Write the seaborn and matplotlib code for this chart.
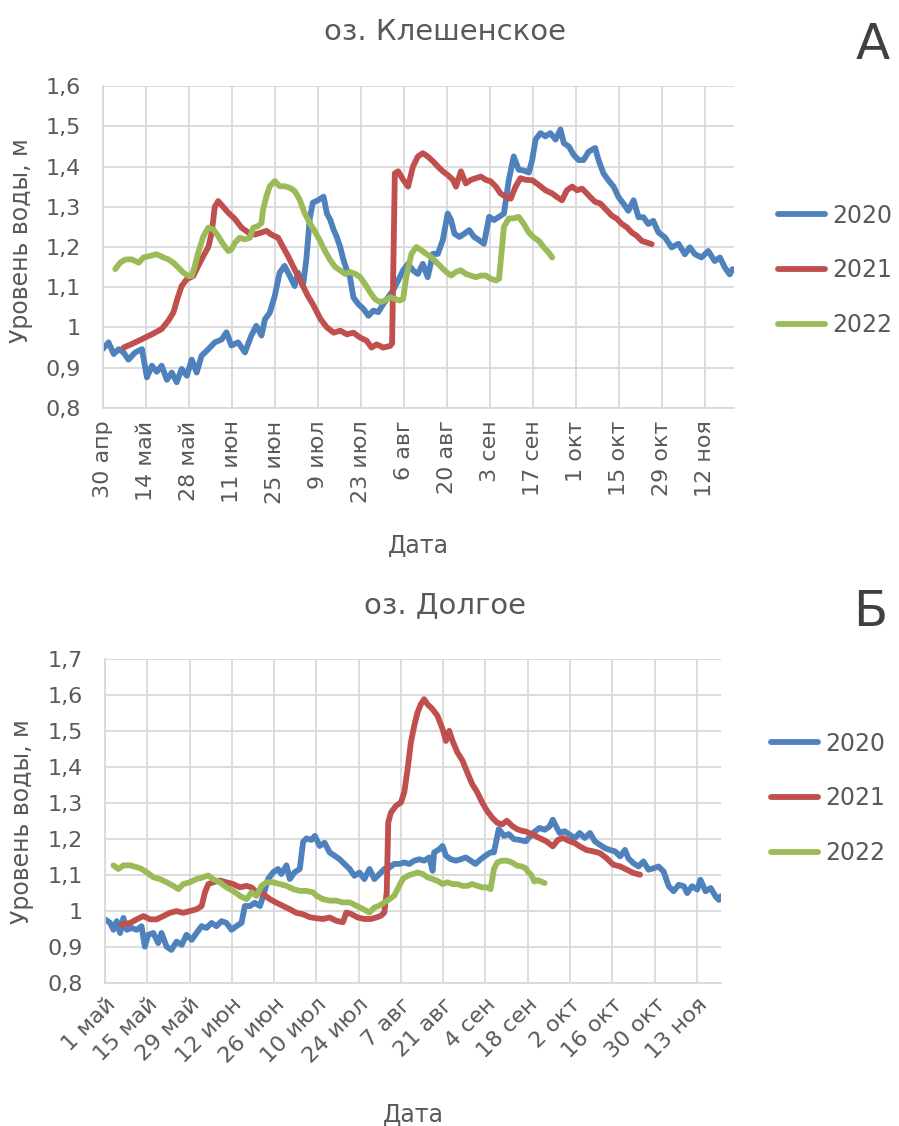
import matplotlib
matplotlib.use("Agg")
import matplotlib.pyplot as plt
import seaborn as sns
import pandas as pd

# ---------------------------------------------------------------------------
# Lake Kleshenskoye: days counted from 30 April, water level in metres
# ---------------------------------------------------------------------------
kl_2020_day = [0, 1.9, 3.6, 5.2, 6.8, 8.4, 10.6, 12.8, 14.4, 16, 17.6, 19.2, 20.9, 22.5, 24.1,
               25.7, 27.4, 29, 30.6, 32.2, 34.4, 36.5, 38.7, 40.3, 41.9, 44.1, 46.3, 48.4, 50,
               51.7, 52.8, 54.4, 56, 57.6, 59.2, 60.9, 62.5, 63.6, 65.2, 66.3, 67.4, 68.4, 70.3,
               71.9, 73, 74.1, 75.2, 76.2, 77.3, 78.4, 79.5, 80.5, 81.6, 83.2, 84.9, 86.5, 88.1,
               89.7, 91.3, 92.9, 94.5, 96.2, 97.8, 99.4, 101, 102.6, 104.2, 105.8, 107.5, 109.1,
               110.7, 112.3, 113.4, 114.5, 116.1, 117.7, 119.3, 120.9, 122.5, 124.1, 125.8, 127.4,
               129, 130.6, 132.2, 133.8, 135.4, 137.1, 138.7, 139.8, 140.9, 142.5, 144.1, 145.7,
               147.4, 149, 150.1, 151.7, 153.3, 154.9, 156.5, 158.2, 160.3, 161.4, 163, 164.6,
               166.3, 167.9, 169.5, 171.1, 172.8, 174.4, 176, 177.6, 179.2, 180.9, 183, 185.2,
               187.4, 189.5, 191.1, 192.8, 194.9, 197.1, 199.2, 200.9, 202.5, 204.1, 205]
kl_2020_lvl = [0.946, 0.963, 0.934, 0.946, 0.938, 0.92, 0.938, 0.946, 0.876, 0.905, 0.89, 0.905,
               0.87, 0.888, 0.864, 0.897, 0.88, 0.92, 0.888, 0.93, 0.946, 0.963, 0.97, 0.988,
               0.955, 0.963, 0.938, 0.98, 1.004, 0.98, 1.02, 1.037, 1.078, 1.136, 1.153, 1.128,
               1.103, 1.136, 1.103, 1.17, 1.27, 1.31, 1.317, 1.325, 1.283, 1.267, 1.242, 1.225,
               1.2, 1.167, 1.142, 1.125, 1.075, 1.058, 1.046, 1.029, 1.042, 1.038, 1.058, 1.075,
               1.092, 1.117, 1.142, 1.158, 1.142, 1.133, 1.158, 1.125, 1.183, 1.183, 1.217, 1.283,
               1.267, 1.233, 1.225, 1.233, 1.242, 1.225, 1.217, 1.208, 1.275, 1.267, 1.275, 1.283,
               1.367, 1.425, 1.392, 1.39, 1.385, 1.416, 1.467, 1.483, 1.475, 1.483, 1.467, 1.492,
               1.458, 1.45, 1.429, 1.416, 1.416, 1.437, 1.446, 1.416, 1.383, 1.366, 1.35, 1.324,
               1.308, 1.29, 1.316, 1.274, 1.274, 1.257, 1.265, 1.236, 1.224, 1.199, 1.208, 1.182,
               1.199, 1.182, 1.174, 1.19, 1.165, 1.174, 1.149, 1.132, 1.145]

kl_2021_day = [6.8, 9.5, 12.8, 16, 19.2, 21.4, 23, 24.6, 25.7, 27.4, 29.5, 31.1, 32.8, 34.4, 35.5,
               36.5, 37.6, 39.2, 40.9, 43, 45.2, 47.4, 49.5, 51.7, 53.3, 54.9, 57.1, 58.7, 60.3,
               61.9, 63.6, 65.2, 66.8, 68.4, 70.9, 73, 75.2, 77.3, 79.5, 81.6, 83.8, 85.9, 87.5,
               89.2, 91.3, 93.5, 94.2, 95.1, 96.2, 97.8, 99.4, 101, 102.6, 104.2, 105.8, 107.5,
               109.1, 110.7, 112.3, 114, 115, 116.6, 118.2, 119.9, 121.5, 123.1, 124.7, 126.3,
               128, 129.5, 131.1, 132.8, 134.4, 136, 137.6, 139.8, 142, 144.1, 146.3, 147.9,
               149.5, 151.1, 152.8, 154.4, 156, 157.1, 158.7, 160.3, 162, 163.6, 165.7, 167.4,
               169, 170.6, 172.2, 173.8, 175.5, 177.1, 178.7]
kl_2021_lvl = [0.95, 0.959, 0.971, 0.983, 0.996, 1.017, 1.037, 1.078, 1.103, 1.12, 1.128, 1.153,
               1.178, 1.2, 1.236, 1.3, 1.314, 1.3, 1.285, 1.27, 1.248, 1.236, 1.231, 1.236, 1.24,
               1.231, 1.223, 1.2, 1.178, 1.153, 1.128, 1.103, 1.078, 1.058, 1.021, 1.0, 0.987,
               0.992, 0.983, 0.987, 0.975, 0.967, 0.95, 0.958, 0.95, 0.954, 0.96, 1.383, 1.388,
               1.367, 1.35, 1.4, 1.425, 1.433, 1.425, 1.413, 1.4, 1.388, 1.379, 1.367, 1.35,
               1.388, 1.358, 1.367, 1.371, 1.375, 1.367, 1.363, 1.35, 1.333, 1.325, 1.32, 1.35,
               1.371, 1.367, 1.366, 1.354, 1.341, 1.333, 1.324, 1.316, 1.341, 1.35, 1.341, 1.345,
               1.337, 1.324, 1.312, 1.308, 1.295, 1.278, 1.27, 1.257, 1.249, 1.236, 1.228, 1.215,
               1.211, 1.207]

kl_2022_day = [4.1, 5.7, 7.4, 9.5, 11.7, 13.3, 15.5, 17.6, 19.8, 21.4, 23, 24.6, 26.3, 27.9, 29,
               30, 31.1, 32.8, 34.4, 36, 37.6, 39.2, 40.9, 41.9, 43, 44.6, 46.3, 47.9, 49, 50.6,
               51.7, 52.2, 53.3, 54.4, 56, 57.6, 59.2, 60.9, 62.5, 64.1, 65.7, 67.4, 69.2, 70.9,
               72.5, 74.1, 75.7, 77.3, 78.9, 80.5, 82.2, 83.8, 85.4, 87, 88.6, 90.2, 91.9, 93.5,
               95.1, 96.7, 97.8, 98.8, 100.5, 102.1, 103.7, 105.3, 106.9, 108.5, 110.2, 111.8,
               113.4, 115, 116.6, 118.2, 119.8, 121.5, 123.1, 124.7, 126.3, 128, 129, 129.9,
               130.6, 132.2, 133.8, 135.4, 137.1, 138.7, 140.3, 142, 143.6, 145.2, 146.3]
kl_2022_lvl = [1.145, 1.161, 1.169, 1.169, 1.161, 1.174, 1.178, 1.182, 1.174, 1.169, 1.161, 1.149,
               1.136, 1.128, 1.128, 1.153, 1.186, 1.227, 1.248, 1.244, 1.227, 1.207, 1.19, 1.194,
               1.21, 1.223, 1.219, 1.223, 1.248, 1.252, 1.26, 1.293, 1.326, 1.351, 1.364, 1.351,
               1.351, 1.347, 1.339, 1.318, 1.285, 1.26, 1.237, 1.213, 1.188, 1.167, 1.15, 1.142,
               1.133, 1.138, 1.133, 1.125, 1.108, 1.088, 1.071, 1.063, 1.067, 1.075, 1.071, 1.067,
               1.071, 1.125, 1.183, 1.2, 1.192, 1.183, 1.175, 1.163, 1.15, 1.138, 1.129, 1.138,
               1.142, 1.133, 1.129, 1.125, 1.129, 1.129, 1.121, 1.117, 1.121, 1.192, 1.25, 1.271,
               1.271, 1.275, 1.257, 1.236, 1.224, 1.215, 1.199, 1.186, 1.174]

# ---------------------------------------------------------------------------
# Lake Dolgoye: days counted from 1 May, water level in metres
# ---------------------------------------------------------------------------
dl_2020_day = [0, 1.7, 2.8, 3.9, 5, 6.1, 7.2, 8.8, 10.5, 12.1, 13.2, 14.3, 16, 17.6, 18.7, 20.4,
               22, 23.7, 25.4, 27, 28.7, 30.3, 32, 33.6, 35.3, 36.9, 38.6, 40.2, 41.9, 43.5, 45.2,
               46.3, 48, 49.6, 51.3, 52.4, 54, 55.7, 57.3, 58.4, 60.1, 61.2, 62.8, 64.5, 65.6,
               66.7, 68.4, 69.5, 71.1, 72.7, 74.4, 76, 77.7, 79.3, 81, 82.6, 84.3, 85.9, 87.6,
               89.2, 90.9, 92.5, 94.2, 95.8, 97.5, 99.1, 100.8, 102.4, 104.1, 105.7, 107.4, 108.5,
               109, 110.7, 111.8, 112.9, 114.5, 116.2, 117.8, 119.5, 121.1, 122.7, 124.4, 126,
               127.7, 128.8, 130.4, 132.1, 133.7, 135.4, 137, 139.4, 141.7, 143.9, 145.6, 147.2,
               148.3, 149.4, 150.6, 152.2, 153.9, 155.6, 157.2, 158.9, 160.6, 162.2, 163.9, 165.6,
               167.2, 168.9, 170.6, 172.2, 173.3, 175, 176.7, 178.3, 180, 181.7, 183.3, 185,
               186.7, 188.3, 190, 191.7, 192.8, 194.4, 196.1, 197.2, 198.9, 200.6, 202.2, 203.3,
               203.9]
dl_2020_lvl = [0.977, 0.967, 0.948, 0.972, 0.939, 0.981, 0.948, 0.953, 0.948, 0.958, 0.901, 0.934,
               0.939, 0.911, 0.939, 0.901, 0.892, 0.915, 0.906, 0.934, 0.92, 0.939, 0.958, 0.953,
               0.967, 0.958, 0.972, 0.967, 0.948, 0.958, 0.967, 1.014, 1.014, 1.023, 1.014, 1.042,
               1.089, 1.108, 1.117, 1.103, 1.127, 1.089, 1.108, 1.117, 1.192, 1.202, 1.198, 1.209,
               1.181, 1.19, 1.163, 1.154, 1.144, 1.131, 1.117, 1.098, 1.107, 1.089, 1.117, 1.089,
               1.103, 1.117, 1.121, 1.131, 1.131, 1.135, 1.131, 1.14, 1.144, 1.14, 1.149, 1.112,
               1.163, 1.172, 1.181, 1.154, 1.144, 1.14, 1.144, 1.149, 1.14, 1.131, 1.144, 1.154,
               1.163, 1.163, 1.228, 1.209, 1.214, 1.2, 1.198, 1.194, 1.217, 1.231, 1.226, 1.235,
               1.254, 1.235, 1.217, 1.222, 1.212, 1.203, 1.217, 1.203, 1.217, 1.194, 1.184, 1.175,
               1.17, 1.166, 1.152, 1.17, 1.147, 1.133, 1.124, 1.138, 1.115, 1.119, 1.124, 1.11,
               1.069, 1.055, 1.073, 1.069, 1.05, 1.069, 1.06, 1.087, 1.055, 1.064, 1.041, 1.031,
               1.041]

dl_2021_day = [5.5, 8.3, 10.5, 12.7, 14.9, 17.1, 19.3, 21.5, 23.7, 25.9, 28.1, 30.3, 32, 33.1,
               34.2, 35.8, 38, 40.2, 42.4, 44.7, 46.9, 48.5, 50.2, 52.4, 54.6, 56.8, 59, 61.2,
               63.4, 65.6, 67.8, 70, 72.2, 74.4, 76.6, 78.8, 79.9, 81.5, 83.7, 85.9, 88.1, 89.8,
               91.4, 92.5, 93.3, 93.8, 94.7, 96.4, 98, 99.1, 100.2, 101.3, 102.4, 103.5, 104.6,
               105.7, 106.8, 108.5, 110.1, 111.8, 112.9, 114, 115.1, 116.7, 118.4, 120, 121.6,
               123.3, 124.9, 126.5, 128.2, 129.8, 131.5, 133.1, 134.8, 136.4, 138.1, 139.4, 141.7,
               143.9, 146.1, 148.3, 150, 151.7, 153.9, 155.6, 157.2, 159.4, 161.7, 163.9, 166.1,
               168.3, 170.6, 172.8, 175, 177.2]
dl_2021_lvl = [0.962, 0.967, 0.977, 0.986, 0.977, 0.977, 0.986, 0.995, 1.0, 0.995, 1.0, 1.005,
               1.014, 1.052, 1.075, 1.08, 1.085, 1.08, 1.075, 1.066, 1.07, 1.066, 1.052, 1.047,
               1.033, 1.023, 1.014, 1.005, 0.995, 0.991, 0.983, 0.98, 0.978, 0.982, 0.973, 0.969,
               0.996, 0.992, 0.982, 0.978, 0.978, 0.982, 0.987, 0.996, 1.052, 1.246, 1.274, 1.293,
               1.302, 1.33, 1.394, 1.469, 1.515, 1.552, 1.575, 1.589, 1.575, 1.561, 1.543, 1.506,
               1.473, 1.501, 1.473, 1.441, 1.418, 1.385, 1.353, 1.33, 1.302, 1.279, 1.26, 1.246,
               1.241, 1.251, 1.237, 1.228, 1.223, 1.221, 1.212, 1.203, 1.194, 1.18, 1.198, 1.203,
               1.194, 1.189, 1.18, 1.17, 1.166, 1.161, 1.147, 1.129, 1.124, 1.115, 1.106, 1.101]

dl_2022_day = [2.8, 4.4, 6.1, 8.3, 10.5, 12.1, 13.8, 16, 18.2, 20.4, 22.6, 24.3, 25.9, 28.1, 30.3,
               32.5, 34.2, 35.8, 38, 40.2, 42.4, 44.7, 46.9, 48.5, 50.2, 51.8, 53.5, 55.7, 57.9,
               60.1, 62.3, 64.5, 66.7, 68.9, 70, 72.2, 74.4, 76.6, 78.8, 81, 83.2, 85.4, 87.6,
               89.2, 90.9, 92.5, 94.2, 95.8, 96.9, 98.6, 100.2, 101.9, 103.5, 105.2, 106.8, 108.5,
               110.1, 111.8, 113.4, 115.1, 116.7, 118.4, 120, 121.6, 123.3, 124.9, 126.5, 127.7,
               128.8, 129.9, 131.5, 133.2, 134.8, 136.5, 138.1, 139.4, 140, 141.1, 142.2, 143.3,
               144.4, 145.6]
dl_2022_lvl = [1.127, 1.117, 1.127, 1.127, 1.122, 1.117, 1.108, 1.094, 1.089, 1.08, 1.07, 1.061,
               1.075, 1.08, 1.089, 1.094, 1.099, 1.089, 1.08, 1.066, 1.056, 1.042, 1.033, 1.052,
               1.042, 1.07, 1.08, 1.08, 1.075, 1.07, 1.061, 1.056, 1.056, 1.052, 1.043, 1.033,
               1.029, 1.029, 1.024, 1.024, 1.015, 1.006, 0.996, 1.01, 1.015, 1.024, 1.033, 1.043,
               1.061, 1.089, 1.098, 1.103, 1.107, 1.103, 1.094, 1.089, 1.084, 1.075, 1.08, 1.075,
               1.075, 1.07, 1.07, 1.075, 1.07, 1.066, 1.066, 1.061, 1.117, 1.135, 1.14, 1.14,
               1.135, 1.126, 1.124, 1.118, 1.11, 1.101, 1.082, 1.086, 1.082, 1.078]

years = ["2020", "2021", "2022"]
year_colors = ["#4F81BD", "#C0504D", "#9BBB59"]

kl_ticklabels = ["30 апр", "14 май", "28 май", "11 июн", "25 июн", "9 июл", "23 июл", "6 авг",
                 "20 авг", "3 сен", "17 сен", "1 окт", "15 окт", "29 окт", "12 ноя"]
dl_ticklabels = ["1 май", "15 май", "29 май", "12 июн", "26 июн", "10 июл", "24 июл", "7 авг",
                 "21 авг", "4 сен", "18 сен", "2 окт", "16 окт", "30 окт", "13 ноя"]

kl_yticks = [0.8, 0.9, 1.0, 1.1, 1.2, 1.3, 1.4, 1.5, 1.6]
dl_yticks = [0.8, 0.9, 1.0, 1.1, 1.2, 1.3, 1.4, 1.5, 1.6, 1.7]


def long_frame(series):
    parts = []
    for year, (days, levels) in zip(years, series):
        parts.append(pd.DataFrame({"day": days, "level": levels, "year": year}))
    return pd.concat(parts, ignore_index=True)


kl_df = long_frame([(kl_2020_day, kl_2020_lvl), (kl_2021_day, kl_2021_lvl),
                    (kl_2022_day, kl_2022_lvl)])
dl_df = long_frame([(dl_2020_day, dl_2020_lvl), (dl_2021_day, dl_2021_lvl),
                    (dl_2022_day, dl_2022_lvl)])

sns.set_style("whitegrid")
plt.rcParams["font.family"] = ["DejaVu Sans"]
TXT = "#595959"
GRID = "#D9D9D9"
FS = 16

fig = plt.figure(figsize=(8.99, 11.26), dpi=100)
ax1 = fig.add_axes([0.1142, 0.6377, 0.7023, 0.2859])
ax2 = fig.add_axes([0.1168, 0.1270, 0.6852, 0.2875])


def fmt_level(v):
    s = f"{v:.1f}"
    if s.endswith(".0"):
        s = s[:-2]
    return s.replace(".", ",")


def style_axes(ax, df, xmax, yticks, ticklabels, rot):
    sns.lineplot(data=df, x="day", y="level", hue="year", palette=year_colors,
                 hue_order=years, estimator=None, sort=False, linewidth=4.2, ax=ax)
    for ln in ax.get_lines():
        ln.set_solid_joinstyle("round")
        ln.set_solid_capstyle("round")
    ax.set_xlim(0, xmax)
    ax.set_ylim(yticks[0], yticks[-1])
    ax.set_yticks(yticks)
    ax.set_yticklabels([fmt_level(v) for v in yticks])
    ax.set_xticks(list(range(0, 14 * len(ticklabels), 14)))
    if rot == 90:
        ax.set_xticklabels(ticklabels, rotation=90, ha="center", va="top")
    else:
        ax.set_xticklabels(ticklabels, rotation=45, ha="right", va="top",
                           rotation_mode="anchor")
    ax.grid(True, color=GRID, linewidth=1.3)
    for side in ["top", "right"]:
        ax.spines[side].set_visible(False)
    for side in ["left", "bottom"]:
        ax.spines[side].set_color(GRID)
        ax.spines[side].set_linewidth(1.3)
    ax.tick_params(axis="both", length=0, labelsize=FS, labelcolor=TXT)
    ax.tick_params(axis="y", pad=16)
    ax.tick_params(axis="x", pad=9 if rot == 90 else 8)
    ax.set_xlabel("Дата", fontsize=FS + 1, color=TXT)
    ax.set_ylabel("Уровень воды, м", fontsize=FS + 1, color=TXT)
    handles, labels = ax.get_legend_handles_labels()
    ax.get_legend().remove()
    return handles, labels


h1, l1 = style_axes(ax1, kl_df, 205.5, kl_yticks, kl_ticklabels, 90)
h2, l2 = style_axes(ax2, dl_df, 204, dl_yticks, dl_ticklabels, 45)

ax1.xaxis.set_label_coords(0.5, -0.39)
ax1.yaxis.set_label_coords(-0.11, 0.52)
ax2.xaxis.set_label_coords(0.5, -0.37)
ax2.yaxis.set_label_coords(-0.115, 0.5)

for h, l, anchor in [(h1, l1, (778 / 899, 0.760)), (h2, l2, (771 / 899, 0.291))]:
    fig.legend(h, l, loc="center left", bbox_to_anchor=anchor, frameon=False,
               fontsize=FS + 1, labelcolor=TXT, handlelength=2.0, handletextpad=0.3,
               labelspacing=1.3, borderpad=0, borderaxespad=0)

fig.text(445 / 899, 1 - 32 / 1126, "оз. Клешенское", ha="center", va="center",
         fontsize=21, color=TXT)
fig.text(445 / 899, 1 - 605 / 1126, "оз. Долгое", ha="center", va="center",
         fontsize=21, color=TXT)
fig.text(873 / 899, 1 - 45 / 1126, "А", ha="center", va="center", fontsize=36, color="#404040")
fig.text(870 / 899, 1 - 612 / 1126, "Б", ha="center", va="center", fontsize=36, color="#404040")

fig.savefig("out.png", dpi=100)
